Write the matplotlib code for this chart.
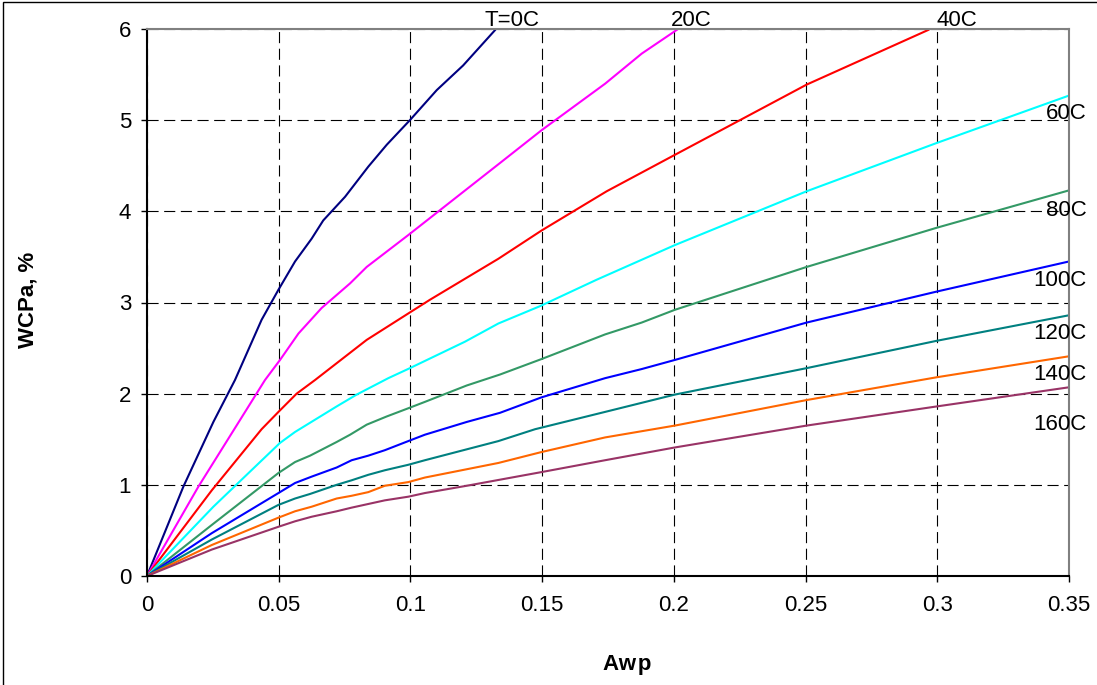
import matplotlib
matplotlib.use("Agg")
import matplotlib.pyplot as plt
from matplotlib.patches import Rectangle

plt.rcParams['font.family'] = ['Liberation Sans', 'DejaVu Sans']
plt.rcParams['lines.scale_dashes'] = False

# ---------------- data ----------------
x_0 = [0, 0.0138, 0.0252, 0.0334, 0.0435, 0.0499, 0.0562, 0.0625, 0.0669, 0.0752, 0.084, 0.091, 0.0998, 0.110, 0.120, 0.1325]
y_0 = [0, 0.98, 1.69, 2.15, 2.81, 3.14, 3.45, 3.70, 3.90, 4.16, 4.49, 4.73, 5.00, 5.33, 5.60, 6.0]

x_20 = [0, 0.0195, 0.0448, 0.0505, 0.0575, 0.0663, 0.0771, 0.0834, 0.0992, 0.134, 0.1498, 0.1739, 0.1878, 0.2011]
y_20 = [0, 0.98, 2.15, 2.37, 2.66, 2.94, 3.21, 3.39, 3.74, 4.53, 4.89, 5.40, 5.73, 5.99]

x_40 = [0, 0.0246, 0.0435, 0.0499, 0.0568, 0.0638, 0.0834, 0.0992, 0.1074, 0.1334, 0.1498, 0.1745, 0.2004, 0.2504, 0.2966]
y_40 = [0, 0.94, 1.61, 1.80, 2.00, 2.15, 2.59, 2.88, 3.03, 3.48, 3.79, 4.22, 4.62, 5.39, 5.99]

x_60 = [0, 0.0252, 0.0429, 0.0505, 0.0562, 0.072, 0.0796, 0.0916, 0.0998, 0.1207, 0.1334, 0.1492, 0.1707, 0.2004, 0.2504, 0.2998, 0.35]
y_60 = [0, 0.76, 1.25, 1.46, 1.58, 1.86, 1.99, 2.17, 2.28, 2.57, 2.77, 2.96, 3.25, 3.63, 4.22, 4.75, 5.27]

x_80 = [0, 0.0246, 0.0499, 0.0562, 0.0619, 0.072, 0.0771, 0.0834, 0.091, 0.0992, 0.1055, 0.1214, 0.134, 0.1498, 0.1739, 0.1878, 0.2004, 0.2504, 0.2998, 0.35]
y_80 = [0, 0.56, 1.13, 1.25, 1.32, 1.47, 1.55, 1.66, 1.75, 1.84, 1.91, 2.09, 2.21, 2.38, 2.65, 2.78, 2.92, 3.39, 3.82, 4.23]

x_100 = [0, 0.0246, 0.0499, 0.0562, 0.0625, 0.072, 0.0777, 0.084, 0.0903, 0.0992, 0.1055, 0.1214, 0.134, 0.1498, 0.1739, 0.1878, 0.2004, 0.2504, 0.2998, 0.35]
y_100 = [0, 0.47, 0.91, 1.02, 1.09, 1.19, 1.27, 1.32, 1.38, 1.48, 1.55, 1.69, 1.79, 1.96, 2.17, 2.27, 2.37, 2.78, 3.12, 3.45]

x_120 = [0, 0.0246, 0.0499, 0.0562, 0.0619, 0.072, 0.0777, 0.084, 0.0903, 0.0992, 0.1055, 0.1334, 0.1473, 0.1739, 0.2004, 0.2504, 0.2998, 0.35]
y_120 = [0, 0.40, 0.78, 0.85, 0.90, 1.00, 1.05, 1.11, 1.16, 1.22, 1.27, 1.48, 1.61, 1.80, 1.99, 2.28, 2.58, 2.86]

x_140 = [0, 0.0246, 0.0499, 0.0562, 0.0625, 0.072, 0.0777, 0.084, 0.0903, 0.0992, 0.1055, 0.1334, 0.1498, 0.1739, 0.2004, 0.2504, 0.2998, 0.35]
y_140 = [0, 0.34, 0.64, 0.71, 0.76, 0.85, 0.88, 0.92, 0.99, 1.03, 1.08, 1.24, 1.36, 1.52, 1.65, 1.93, 2.18, 2.41]

x_160 = [0, 0.0246, 0.0499, 0.0562, 0.0625, 0.072, 0.0777, 0.084, 0.0903, 0.0992, 0.1055, 0.1214, 0.1498, 0.1739, 0.2004, 0.2504, 0.2998, 0.35]
y_160 = [0, 0.29, 0.54, 0.60, 0.65, 0.71, 0.75, 0.79, 0.83, 0.87, 0.91, 0.99, 1.14, 1.27, 1.41, 1.65, 1.86, 2.07]

labels = ["T=0C", "20C", "40C", "60C", "80C", "100C", "120C", "140C", "160C"]
colors = ["#000080", "#FF00FF", "#FF0000", "#00FFFF", "#339966",
          "#0000FF", "#008080", "#FF6600", "#993366"]

x_ticks = [0, 0.05, 0.1, 0.15, 0.2, 0.25, 0.3, 0.35]
x_tick_labels = ["0", "0.05", "0.1", "0.15", "0.2", "0.25", "0.3", "0.35"]
y_ticks = [0, 1, 2, 3, 4, 5, 6]

series = [(x_0, y_0), (x_20, y_20), (x_40, y_40), (x_60, y_60), (x_80, y_80),
          (x_100, y_100), (x_120, y_120), (x_140, y_140), (x_160, y_160)]

# label anchors (data coords, text baseline)
top_lab = {"T=0C": (0.1283, 6.033), "20C": (0.1989, 6.033), "40C": (0.2998, 6.033)}
right_lab = {"60C": 5.01, "80C": 3.95, "100C": 3.18, "120C": 2.60, "140C": 2.15, "160C": 1.60}

# ---------------- figure ----------------
fig = plt.figure(figsize=(10.97, 6.85), dpi=100)
ax = fig.add_axes([147 / 1097, 1 - 576 / 685, 922 / 1097, 547 / 685])

for (xs, ys), c in zip(series, colors):
    ax.plot(xs, ys, color=c, lw=1.5, solid_joinstyle="round")

ax.set_xlim(0, 0.35)
ax.set_ylim(0, 6)
ax.set_xticks(x_ticks)
ax.set_xticklabels(x_tick_labels)
ax.set_yticks(y_ticks)
ax.tick_params(axis="both", direction="out", length=4.5, width=1, labelsize=16)
ax.tick_params(axis="x", pad=9)
ax.tick_params(axis="y", pad=7)

ax.grid(True, color="black", lw=0.8, linestyle=(0, (8, 4)))
ax.set_axisbelow(True)

for s in ["top", "right"]:
    ax.spines[s].set_color("#808080")
    ax.spines[s].set_linewidth(1.5)
for s in ["left", "bottom"]:
    ax.spines[s].set_color("black")
    ax.spines[s].set_linewidth(1.5)

for name, (tx, ty) in top_lab.items():
    ax.text(tx, ty, name, fontsize=16, ha="left", va="baseline", clip_on=False)
for name, ty in right_lab.items():
    ax.text(0.3568, ty, name, fontsize=16, ha="right", va="baseline", clip_on=False)

fig.text(28 / 1097, 1 - 300 / 685, "WCPa, %", rotation=90, fontsize=16,
         fontweight="bold", ha="center", va="center")
fig.text(627 / 1097, 1 - 670 / 685, "Aw\u200ap", fontsize=16, fontweight="bold",
         ha="center", va="baseline")

# outer chart border (only left/top visible in the crop)
fig.patches.append(Rectangle((3 / 1097, -0.1), 1.2, 1 - 2 / 685 + 0.1,
                             transform=fig.transFigure, fill=False,
                             edgecolor="black", lw=1))

fig.savefig("out.png", dpi=100)
